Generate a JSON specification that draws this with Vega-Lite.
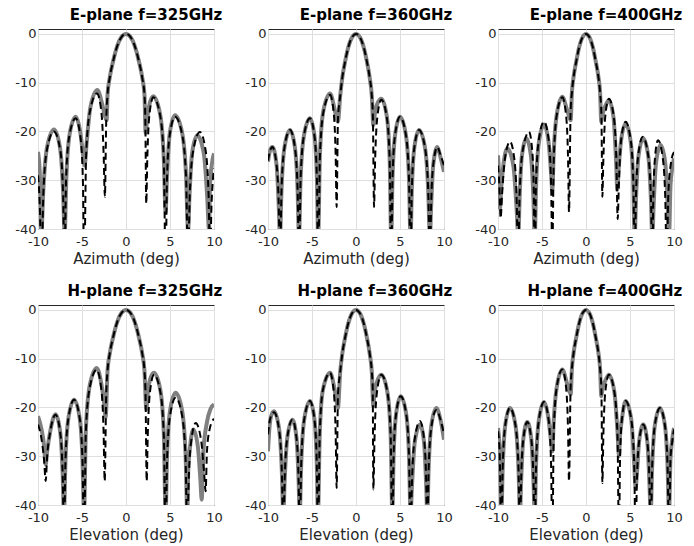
{
  "$schema": "https://vega.github.io/schema/vega-lite/v6.json",
  "background": "white",
  "padding": {"left": 14, "top": 7, "right": 5, "bottom": 5},
  "config": {
    "font": "DejaVu Sans",
    "view": {"stroke": "#262626", "strokeWidth": 1},
    "axis": {"domain": false, "ticks": false, "grid": true, "gridColor": "#dfdfdf", "gridWidth": 1, "labelFont": "DejaVu Sans", "labelFontSize": 13, "labelColor": "#262626", "labelFlush": false, "labelOverlap": false, "labelExpr": "'' + datum.value", "titleFont": "DejaVu Sans", "titleFontSize": 15, "titleFontWeight": "normal", "titleColor": "#262626", "titlePadding": 3},
    "axisX": {"labelPadding": 6},
    "axisY": {"labelPadding": 2},
    "title": {"font": "DejaVu Sans", "fontSize": 15, "fontWeight": "bold", "color": "#000000", "anchor": "end", "offset": 5}
  },
  "datasets": {
    "E325_meas": [{"x":-10,"y":-24.2},{"x":-9.8,"y":-28.5},{"x":-9.62,"y":-41},{"x":-9.4,"y":-32.2},{"x":-8.97,"y":-23.2},{"x":-8.18,"y":-19.6},{"x":-7.51,"y":-23.2},{"x":-7.15,"y":-32.2},{"x":-6.97,"y":-41},{"x":-6.78,"y":-29.6},{"x":-6.41,"y":-20.6},{"x":-5.72,"y":-17},{"x":-5.16,"y":-20.6},{"x":-4.9,"y":-24.5},{"x":-4.7,"y":-27},{"x":-4.48,"y":-22.5},{"x":-4.05,"y":-15.1},{"x":-3.26,"y":-11.5},{"x":-2.68,"y":-14.6},{"x":-2.4,"y":-16.8},{"x":-2.2,"y":-17.7},{"x":-2.1,"y":-12.5},{"x":-1.85,"y":-9},{"x":-1.45,"y":-5.5},{"x":-1,"y":-2.5},{"x":-0.5,"y":-0.6},{"x":0,"y":0},{"x":0.5,"y":-0.6},{"x":1,"y":-2.5},{"x":1.45,"y":-5.5},{"x":1.85,"y":-9},{"x":2.1,"y":-12.5},{"x":2.23,"y":-20.3},{"x":2.4,"y":-17.5},{"x":2.62,"y":-14.8},{"x":3.1,"y":-12.8},{"x":3.87,"y":-16.4},{"x":4.29,"y":-25.4},{"x":4.5,"y":-36.5},{"x":4.66,"y":-29.3},{"x":4.98,"y":-20.3},{"x":5.57,"y":-16.7},{"x":6.38,"y":-20.3},{"x":6.83,"y":-29.3},{"x":7.05,"y":-40.5},{"x":7.21,"y":-33.4},{"x":7.52,"y":-24.4},{"x":8.1,"y":-20.8},{"x":8.83,"y":-24.4},{"x":9.23,"y":-33.4},{"x":9.43,"y":-40},{"x":9.55,"y":-31},{"x":9.75,"y":-26.8},{"x":10,"y":-24.5}],
    "E325_sim": [{"x":-10,"y":-29},{"x":-9.8,"y":-35},{"x":-9.6,"y":-48},{"x":-9.39,"y":-32.6},{"x":-8.97,"y":-23.6},{"x":-8.2,"y":-20},{"x":-7.49,"y":-23.6},{"x":-7.15,"y":-32.6},{"x":-7,"y":-48},{"x":-6.81,"y":-29.9},{"x":-6.44,"y":-20.9},{"x":-5.72,"y":-17.3},{"x":-5.19,"y":-20.9},{"x":-4.9,"y":-29.9},{"x":-4.75,"y":-48},{"x":-4.53,"y":-24.8},{"x":-4.09,"y":-15.8},{"x":-3.3,"y":-12.2},{"x":-2.81,"y":-15.8},{"x":-2.54,"y":-24.8},{"x":-2.4,"y":-33.4},{"x":-2.25,"y":-18},{"x":-2.1,"y":-12.5},{"x":-1.85,"y":-9},{"x":-1.45,"y":-5.5},{"x":-1,"y":-2.5},{"x":-0.5,"y":-0.6},{"x":0,"y":0},{"x":0.5,"y":-0.6},{"x":1,"y":-2.5},{"x":1.45,"y":-5.5},{"x":1.85,"y":-9},{"x":2.1,"y":-12.5},{"x":2.2,"y":-18},{"x":2.3,"y":-34.8},{"x":2.42,"y":-25.6},{"x":2.66,"y":-16.6},{"x":3.1,"y":-13},{"x":3.87,"y":-16.6},{"x":4.29,"y":-25.6},{"x":4.5,"y":-48},{"x":4.66,"y":-29.6},{"x":4.98,"y":-20.6},{"x":5.57,"y":-17},{"x":6.38,"y":-20.6},{"x":6.83,"y":-29.6},{"x":7.05,"y":-48},{"x":7.25,"y":-32.7},{"x":7.66,"y":-23.7},{"x":8.4,"y":-20.1},{"x":9.03,"y":-23.7},{"x":9.38,"y":-32.7},{"x":9.55,"y":-48},{"x":9.7,"y":-36},{"x":9.85,"y":-30.5},{"x":10,"y":-27.6}],
    "E360_meas": [{"x":-10,"y":-26.2},{"x":-9.78,"y":-24},{"x":-9.5,"y":-23.2},{"x":-9.03,"y":-26.8},{"x":-8.77,"y":-35.8},{"x":-8.64,"y":-42},{"x":-8.47,"y":-32.3},{"x":-8.13,"y":-23.3},{"x":-7.5,"y":-19.7},{"x":-6.94,"y":-23.3},{"x":-6.63,"y":-32.3},{"x":-6.48,"y":-42},{"x":-6.3,"y":-29.9},{"x":-5.92,"y":-20.9},{"x":-5.23,"y":-17.3},{"x":-4.72,"y":-20.9},{"x":-4.44,"y":-29.9},{"x":-4.3,"y":-42},{"x":-4.1,"y":-24.8},{"x":-3.71,"y":-15.8},{"x":-2.95,"y":-12.2},{"x":-2.46,"y":-15.2},{"x":-2.2,"y":-17.3},{"x":-2.05,"y":-18},{"x":-1.8,"y":-12.8},{"x":-1.55,"y":-8.9},{"x":-1.25,"y":-5.8},{"x":-0.9,"y":-2.9},{"x":-0.45,"y":-0.7},{"x":0,"y":0},{"x":0.45,"y":-0.7},{"x":0.9,"y":-2.9},{"x":1.25,"y":-5.8},{"x":1.55,"y":-8.9},{"x":1.8,"y":-12.8},{"x":1.97,"y":-18.7},{"x":2.15,"y":-16.2},{"x":2.45,"y":-14.2},{"x":2.88,"y":-13.3},{"x":3.5,"y":-16.9},{"x":3.83,"y":-25.9},{"x":4,"y":-42},{"x":4.15,"y":-29.6},{"x":4.45,"y":-20.6},{"x":5,"y":-17},{"x":5.66,"y":-20.6},{"x":6.02,"y":-29.6},{"x":6.2,"y":-42},{"x":6.34,"y":-32.3},{"x":6.63,"y":-23.3},{"x":7.16,"y":-19.7},{"x":7.84,"y":-23.3},{"x":8.21,"y":-32.3},{"x":8.4,"y":-42},{"x":8.53,"y":-35.8},{"x":8.78,"y":-26.8},{"x":9.24,"y":-23.2},{"x":9.6,"y":-25.3},{"x":10,"y":-28.3}],
    "E360_sim": [{"x":-10,"y":-26},{"x":-9.78,"y":-24},{"x":-9.5,"y":-23.2},{"x":-9.03,"y":-26.8},{"x":-8.77,"y":-35.8},{"x":-8.64,"y":-48},{"x":-8.47,"y":-32.3},{"x":-8.13,"y":-23.3},{"x":-7.5,"y":-19.7},{"x":-6.94,"y":-23.3},{"x":-6.63,"y":-32.3},{"x":-6.48,"y":-48},{"x":-6.3,"y":-29.9},{"x":-5.92,"y":-20.9},{"x":-5.23,"y":-17.3},{"x":-4.72,"y":-20.9},{"x":-4.44,"y":-29.9},{"x":-4.3,"y":-48},{"x":-4.1,"y":-25.1},{"x":-3.71,"y":-16.1},{"x":-2.95,"y":-12.5},{"x":-2.54,"y":-16.1},{"x":-2.31,"y":-25.1},{"x":-2.2,"y":-35.5},{"x":-2.05,"y":-17.5},{"x":-1.8,"y":-12.8},{"x":-1.55,"y":-8.9},{"x":-1.25,"y":-5.8},{"x":-0.9,"y":-2.9},{"x":-0.45,"y":-0.7},{"x":0,"y":0},{"x":0.45,"y":-0.7},{"x":0.9,"y":-2.9},{"x":1.25,"y":-5.8},{"x":1.55,"y":-8.9},{"x":1.8,"y":-12.8},{"x":1.92,"y":-17},{"x":2.05,"y":-35.5},{"x":2.17,"y":-26.1},{"x":2.42,"y":-17.1},{"x":2.88,"y":-13.5},{"x":3.5,"y":-17.1},{"x":3.83,"y":-26.1},{"x":4,"y":-48},{"x":4.15,"y":-29.6},{"x":4.45,"y":-20.6},{"x":5,"y":-17},{"x":5.66,"y":-20.6},{"x":6.02,"y":-29.6},{"x":6.2,"y":-48},{"x":6.34,"y":-32.3},{"x":6.63,"y":-23.3},{"x":7.16,"y":-19.7},{"x":7.84,"y":-23.3},{"x":8.21,"y":-32.3},{"x":8.4,"y":-48},{"x":8.53,"y":-35.8},{"x":8.78,"y":-26.8},{"x":9.24,"y":-23.2},{"x":9.6,"y":-24.8},{"x":10,"y":-27}],
    "E400_meas": [{"x":-10,"y":-24.9},{"x":-9.88,"y":-29},{"x":-9.77,"y":-35.8},{"x":-9.65,"y":-32},{"x":-9.4,"y":-27.1},{"x":-8.94,"y":-23.5},{"x":-8.25,"y":-27.1},{"x":-7.88,"y":-36.1},{"x":-7.69,"y":-42},{"x":-7.55,"y":-34},{"x":-7.28,"y":-25},{"x":-6.78,"y":-21.4},{"x":-6.26,"y":-25},{"x":-5.97,"y":-34},{"x":-5.83,"y":-42},{"x":-5.67,"y":-31.2},{"x":-5.35,"y":-22.2},{"x":-4.77,"y":-18.6},{"x":-4.25,"y":-22.2},{"x":-3.97,"y":-28.5},{"x":-3.83,"y":-32},{"x":-3.66,"y":-24},{"x":-3.32,"y":-16.5},{"x":-2.69,"y":-12.9},{"x":-2.17,"y":-15.5},{"x":-1.9,"y":-17},{"x":-1.74,"y":-17.7},{"x":-1.6,"y":-12},{"x":-1.4,"y":-8.7},{"x":-1.1,"y":-5.6},{"x":-0.8,"y":-2.9},{"x":-0.4,"y":-0.7},{"x":0,"y":0},{"x":0.4,"y":-0.7},{"x":0.8,"y":-2.9},{"x":1.1,"y":-5.6},{"x":1.4,"y":-8.7},{"x":1.6,"y":-12},{"x":1.74,"y":-18},{"x":1.88,"y":-16.5},{"x":2.2,"y":-14.8},{"x":2.6,"y":-13.6},{"x":3.13,"y":-17.2},{"x":3.42,"y":-26.2},{"x":3.56,"y":-32},{"x":3.7,"y":-28},{"x":3.98,"y":-22},{"x":4.5,"y":-18.4},{"x":5.07,"y":-22},{"x":5.38,"y":-31},{"x":5.53,"y":-42},{"x":5.68,"y":-34},{"x":5.97,"y":-25},{"x":6.5,"y":-21.4},{"x":7.07,"y":-25},{"x":7.38,"y":-34},{"x":7.54,"y":-42},{"x":7.68,"y":-35.4},{"x":7.96,"y":-26.4},{"x":8.48,"y":-22.8},{"x":9,"y":-26.4},{"x":9.29,"y":-35.4},{"x":9.43,"y":-42},{"x":9.6,"y":-31},{"x":9.8,"y":-27.5},{"x":10,"y":-25.5}],
    "E400_sim": [{"x":-10,"y":-27},{"x":-9.85,"y":-31},{"x":-9.7,"y":-37.8},{"x":-9.54,"y":-33},{"x":-9.22,"y":-25.7},{"x":-8.64,"y":-22.1},{"x":-8.14,"y":-25.7},{"x":-7.87,"y":-34.7},{"x":-7.73,"y":-48},{"x":-7.54,"y":-32.7},{"x":-7.17,"y":-23.7},{"x":-6.48,"y":-20.1},{"x":-6.12,"y":-23.7},{"x":-5.93,"y":-32.7},{"x":-5.83,"y":-48},{"x":-5.68,"y":-30.6},{"x":-5.35,"y":-21.6},{"x":-4.77,"y":-18},{"x":-4.25,"y":-21.6},{"x":-3.97,"y":-30.6},{"x":-3.83,"y":-45},{"x":-3.66,"y":-25.6},{"x":-3.32,"y":-16.6},{"x":-2.69,"y":-13},{"x":-2.27,"y":-16.6},{"x":-2.04,"y":-25.6},{"x":-1.93,"y":-36.5},{"x":-1.75,"y":-16},{"x":-1.6,"y":-12},{"x":-1.4,"y":-8.7},{"x":-1.1,"y":-5.6},{"x":-0.8,"y":-2.9},{"x":-0.4,"y":-0.7},{"x":0,"y":0},{"x":0.4,"y":-0.7},{"x":0.8,"y":-2.9},{"x":1.1,"y":-5.6},{"x":1.4,"y":-8.7},{"x":1.6,"y":-12},{"x":1.75,"y":-16.5},{"x":1.86,"y":-33.4},{"x":1.97,"y":-25.9},{"x":2.19,"y":-16.9},{"x":2.6,"y":-13.3},{"x":3.15,"y":-16.9},{"x":3.45,"y":-25.9},{"x":3.6,"y":-38},{"x":3.74,"y":-30.6},{"x":4,"y":-21.6},{"x":4.5,"y":-18},{"x":5.07,"y":-21.6},{"x":5.38,"y":-30.6},{"x":5.53,"y":-48},{"x":5.67,"y":-33.7},{"x":5.95,"y":-24.7},{"x":6.45,"y":-21.1},{"x":7.05,"y":-24.7},{"x":7.38,"y":-33.7},{"x":7.54,"y":-48},{"x":7.64,"y":-34.4},{"x":7.84,"y":-25.4},{"x":8.18,"y":-21.8},{"x":8.72,"y":-25.4},{"x":9.02,"y":-34.4},{"x":9.17,"y":-48},{"x":9.35,"y":-33},{"x":9.65,"y":-26.5},{"x":10,"y":-24.2}],
    "H325_meas": [{"x":-10,"y":-21.8},{"x":-9.6,"y":-24.5},{"x":-9.3,"y":-28},{"x":-9.13,"y":-31.7},{"x":-8.96,"y":-29},{"x":-8.62,"y":-25},{"x":-8,"y":-21.4},{"x":-7.48,"y":-25},{"x":-7.19,"y":-34},{"x":-7.05,"y":-42},{"x":-6.88,"y":-31},{"x":-6.53,"y":-22},{"x":-5.9,"y":-18.4},{"x":-5.28,"y":-22},{"x":-4.94,"y":-31},{"x":-4.77,"y":-42},{"x":-4.56,"y":-24.5},{"x":-4.12,"y":-15.5},{"x":-3.33,"y":-11.9},{"x":-2.77,"y":-15.5},{"x":-2.46,"y":-19.5},{"x":-2.31,"y":-22},{"x":-2.1,"y":-12.5},{"x":-1.85,"y":-9},{"x":-1.45,"y":-5.5},{"x":-1,"y":-2.5},{"x":-0.5,"y":-0.6},{"x":0,"y":0},{"x":0.5,"y":-0.6},{"x":1,"y":-2.5},{"x":1.45,"y":-5.5},{"x":1.85,"y":-9},{"x":2.1,"y":-12.5},{"x":2.31,"y":-20.4},{"x":2.45,"y":-17.5},{"x":2.7,"y":-14.5},{"x":3.18,"y":-12.9},{"x":3.91,"y":-16.5},{"x":4.3,"y":-25.5},{"x":4.5,"y":-42},{"x":4.67,"y":-29.6},{"x":5.01,"y":-20.6},{"x":5.64,"y":-17},{"x":6.37,"y":-20.6},{"x":6.77,"y":-29.6},{"x":6.97,"y":-42},{"x":7.07,"y":-33},{"x":7.28,"y":-28.1},{"x":7.65,"y":-24.5},{"x":8.17,"y":-28.1},{"x":8.46,"y":-35},{"x":8.6,"y":-38.9},{"x":8.8,"y":-29},{"x":9.2,"y":-23},{"x":9.6,"y":-20.3},{"x":10,"y":-19.4}],
    "H325_sim": [{"x":-10,"y":-23.5},{"x":-9.6,"y":-26.5},{"x":-9.3,"y":-31},{"x":-9.13,"y":-35.1},{"x":-8.96,"y":-30},{"x":-8.62,"y":-25.1},{"x":-8,"y":-21.5},{"x":-7.48,"y":-25.1},{"x":-7.19,"y":-34.1},{"x":-7.05,"y":-48},{"x":-6.88,"y":-31},{"x":-6.53,"y":-22},{"x":-5.9,"y":-18.4},{"x":-5.28,"y":-22},{"x":-4.94,"y":-31},{"x":-4.77,"y":-48},{"x":-4.56,"y":-24.9},{"x":-4.12,"y":-15.9},{"x":-3.33,"y":-12.3},{"x":-2.83,"y":-15.9},{"x":-2.55,"y":-24.9},{"x":-2.42,"y":-35.1},{"x":-2.25,"y":-17.5},{"x":-2.1,"y":-12.5},{"x":-1.85,"y":-9},{"x":-1.45,"y":-5.5},{"x":-1,"y":-2.5},{"x":-0.5,"y":-0.6},{"x":0,"y":0},{"x":0.5,"y":-0.6},{"x":1,"y":-2.5},{"x":1.45,"y":-5.5},{"x":1.85,"y":-9},{"x":2.1,"y":-12.5},{"x":2.22,"y":-17.5},{"x":2.35,"y":-35.1},{"x":2.47,"y":-25.9},{"x":2.72,"y":-16.9},{"x":3.18,"y":-13.3},{"x":3.91,"y":-16.9},{"x":4.3,"y":-25.9},{"x":4.5,"y":-48},{"x":4.67,"y":-30.6},{"x":5.01,"y":-21.6},{"x":5.64,"y":-18},{"x":6.37,"y":-21.6},{"x":6.77,"y":-30.6},{"x":6.97,"y":-48},{"x":7.11,"y":-35.8},{"x":7.42,"y":-26.8},{"x":7.92,"y":-23.2},{"x":8.54,"y":-26.8},{"x":8.88,"y":-33.5},{"x":9.05,"y":-37.2},{"x":9.2,"y":-29},{"x":9.5,"y":-24.5},{"x":10,"y":-22.3}],
    "H360_meas": [{"x":-10,"y":-29},{"x":-9.85,"y":-24.5},{"x":-9.65,"y":-21.8},{"x":-9.32,"y":-20.8},{"x":-8.74,"y":-24.4},{"x":-8.42,"y":-33.4},{"x":-8.26,"y":-42},{"x":-8.11,"y":-35.1},{"x":-7.8,"y":-26.1},{"x":-7.23,"y":-22.5},{"x":-6.77,"y":-26.1},{"x":-6.52,"y":-35.1},{"x":-6.4,"y":-42},{"x":-6.22,"y":-31.3},{"x":-5.87,"y":-22.3},{"x":-5.23,"y":-18.7},{"x":-4.73,"y":-22.3},{"x":-4.46,"y":-31.3},{"x":-4.32,"y":-42},{"x":-4.12,"y":-25.5},{"x":-3.77,"y":-16.5},{"x":-2.95,"y":-12.9},{"x":-2.46,"y":-16},{"x":-2.2,"y":-18.8},{"x":-2.05,"y":-20.1},{"x":-1.8,"y":-12.8},{"x":-1.55,"y":-8.9},{"x":-1.25,"y":-5.8},{"x":-0.9,"y":-2.9},{"x":-0.45,"y":-0.7},{"x":0,"y":0},{"x":0.45,"y":-0.7},{"x":0.9,"y":-2.9},{"x":1.25,"y":-5.8},{"x":1.55,"y":-8.9},{"x":1.8,"y":-12.8},{"x":1.97,"y":-19.7},{"x":2.1,"y":-17},{"x":2.38,"y":-14.8},{"x":2.88,"y":-13.3},{"x":3.57,"y":-16.9},{"x":3.94,"y":-25.9},{"x":4.13,"y":-42},{"x":4.27,"y":-30.3},{"x":4.56,"y":-21.3},{"x":5.08,"y":-17.7},{"x":5.7,"y":-21.3},{"x":6.03,"y":-30.3},{"x":6.2,"y":-42},{"x":6.36,"y":-36.1},{"x":6.68,"y":-27.1},{"x":7.27,"y":-23.5},{"x":7.73,"y":-27.1},{"x":7.98,"y":-36.1},{"x":8.1,"y":-42},{"x":8.25,"y":-32.7},{"x":8.56,"y":-23.7},{"x":9.13,"y":-20.1},{"x":9.6,"y":-22.5},{"x":10,"y":-26.6}],
    "H360_sim": [{"x":-10,"y":-25.5},{"x":-9.75,"y":-22.3},{"x":-9.32,"y":-21},{"x":-8.74,"y":-24.6},{"x":-8.42,"y":-33.6},{"x":-8.26,"y":-48},{"x":-8.11,"y":-35.1},{"x":-7.8,"y":-26.1},{"x":-7.23,"y":-22.5},{"x":-6.77,"y":-26.1},{"x":-6.52,"y":-35.1},{"x":-6.4,"y":-48},{"x":-6.22,"y":-31.3},{"x":-5.87,"y":-22.3},{"x":-5.23,"y":-18.7},{"x":-4.73,"y":-22.3},{"x":-4.46,"y":-31.3},{"x":-4.32,"y":-48},{"x":-4.12,"y":-25.5},{"x":-3.77,"y":-16.5},{"x":-2.95,"y":-12.9},{"x":-2.54,"y":-16.5},{"x":-2.31,"y":-25.5},{"x":-2.2,"y":-36.5},{"x":-2.05,"y":-17.5},{"x":-1.8,"y":-12.8},{"x":-1.55,"y":-8.9},{"x":-1.25,"y":-5.8},{"x":-0.9,"y":-2.9},{"x":-0.45,"y":-0.7},{"x":0,"y":0},{"x":0.45,"y":-0.7},{"x":0.9,"y":-2.9},{"x":1.25,"y":-5.8},{"x":1.55,"y":-8.9},{"x":1.8,"y":-12.8},{"x":1.9,"y":-16},{"x":1.97,"y":-36.8},{"x":2.11,"y":-25.9},{"x":2.38,"y":-16.9},{"x":2.88,"y":-13.3},{"x":3.57,"y":-16.9},{"x":3.94,"y":-25.9},{"x":4.13,"y":-48},{"x":4.27,"y":-30.3},{"x":4.56,"y":-21.3},{"x":5.08,"y":-17.7},{"x":5.7,"y":-21.3},{"x":6.03,"y":-30.3},{"x":6.2,"y":-48},{"x":6.36,"y":-35.4},{"x":6.68,"y":-26.4},{"x":7.27,"y":-22.8},{"x":7.73,"y":-26.4},{"x":7.98,"y":-35.4},{"x":8.1,"y":-48},{"x":8.25,"y":-33.1},{"x":8.56,"y":-24.1},{"x":9.13,"y":-20.5},{"x":9.6,"y":-22.5},{"x":10,"y":-25.5}],
    "H400_meas": [{"x":-10,"y":-24.2},{"x":-9.8,"y":-29},{"x":-9.62,"y":-42},{"x":-9.47,"y":-32.7},{"x":-9.18,"y":-23.7},{"x":-8.64,"y":-20.1},{"x":-8.01,"y":-23.7},{"x":-7.67,"y":-32.7},{"x":-7.5,"y":-42},{"x":-7.38,"y":-35.6},{"x":-7.13,"y":-26.6},{"x":-6.67,"y":-23},{"x":-6.21,"y":-26.6},{"x":-5.96,"y":-35.6},{"x":-5.83,"y":-42},{"x":-5.67,"y":-31.5},{"x":-5.35,"y":-22.5},{"x":-4.77,"y":-18.9},{"x":-4.25,"y":-22.5},{"x":-3.97,"y":-27},{"x":-3.83,"y":-29},{"x":-3.66,"y":-22.5},{"x":-3.32,"y":-15.8},{"x":-2.69,"y":-12.2},{"x":-2.17,"y":-15},{"x":-1.9,"y":-16.7},{"x":-1.74,"y":-17.3},{"x":-1.6,"y":-12},{"x":-1.4,"y":-8.7},{"x":-1.1,"y":-5.6},{"x":-0.8,"y":-2.9},{"x":-0.4,"y":-0.7},{"x":0,"y":0},{"x":0.4,"y":-0.7},{"x":0.8,"y":-2.9},{"x":1.1,"y":-5.6},{"x":1.4,"y":-8.7},{"x":1.6,"y":-12},{"x":1.74,"y":-17.7},{"x":1.88,"y":-16},{"x":2.2,"y":-14.5},{"x":2.6,"y":-13.3},{"x":3.23,"y":-16.9},{"x":3.58,"y":-25},{"x":3.75,"y":-30},{"x":3.86,"y":-26},{"x":4.09,"y":-22.3},{"x":4.5,"y":-18.7},{"x":5.13,"y":-22.3},{"x":5.47,"y":-31.3},{"x":5.64,"y":-36.5},{"x":5.77,"y":-34},{"x":6.03,"y":-27.1},{"x":6.5,"y":-23.5},{"x":6.97,"y":-27.1},{"x":7.22,"y":-36.1},{"x":7.35,"y":-42},{"x":7.51,"y":-32.7},{"x":7.82,"y":-23.7},{"x":8.4,"y":-20.1},{"x":8.97,"y":-23.7},{"x":9.28,"y":-32.7},{"x":9.43,"y":-42},{"x":9.6,"y":-30.5},{"x":9.8,"y":-26.5},{"x":10,"y":-24.2}],
    "H400_sim": [{"x":-10,"y":-24.9},{"x":-9.8,"y":-30},{"x":-9.62,"y":-48},{"x":-9.47,"y":-32.7},{"x":-9.18,"y":-23.7},{"x":-8.64,"y":-20.1},{"x":-8.01,"y":-23.7},{"x":-7.67,"y":-32.7},{"x":-7.5,"y":-48},{"x":-7.38,"y":-35.6},{"x":-7.13,"y":-26.6},{"x":-6.67,"y":-23},{"x":-6.21,"y":-26.6},{"x":-5.96,"y":-35.6},{"x":-5.83,"y":-48},{"x":-5.67,"y":-31.5},{"x":-5.35,"y":-22.5},{"x":-4.77,"y":-18.9},{"x":-4.25,"y":-22.5},{"x":-3.97,"y":-31.5},{"x":-3.83,"y":-48},{"x":-3.66,"y":-24.8},{"x":-3.32,"y":-15.8},{"x":-2.69,"y":-12.2},{"x":-2.27,"y":-15.8},{"x":-2.04,"y":-24.8},{"x":-1.93,"y":-35.1},{"x":-1.75,"y":-16},{"x":-1.6,"y":-12},{"x":-1.4,"y":-8.7},{"x":-1.1,"y":-5.6},{"x":-0.8,"y":-2.9},{"x":-0.4,"y":-0.7},{"x":0,"y":0},{"x":0.4,"y":-0.7},{"x":0.8,"y":-2.9},{"x":1.1,"y":-5.6},{"x":1.4,"y":-8.7},{"x":1.6,"y":-12},{"x":1.75,"y":-16.5},{"x":1.86,"y":-35.5},{"x":1.97,"y":-25.9},{"x":2.19,"y":-16.9},{"x":2.6,"y":-13.3},{"x":3.23,"y":-16.9},{"x":3.58,"y":-25.9},{"x":3.75,"y":-48},{"x":3.86,"y":-31.3},{"x":4.09,"y":-22.3},{"x":4.5,"y":-18.7},{"x":5.13,"y":-22.3},{"x":5.47,"y":-31.3},{"x":5.64,"y":-48},{"x":5.77,"y":-36.1},{"x":6.03,"y":-27.1},{"x":6.5,"y":-23.5},{"x":6.97,"y":-27.1},{"x":7.22,"y":-36.1},{"x":7.35,"y":-48},{"x":7.51,"y":-32.7},{"x":7.82,"y":-23.7},{"x":8.4,"y":-20.1},{"x":8.97,"y":-23.7},{"x":9.28,"y":-32.7},{"x":9.43,"y":-48},{"x":9.6,"y":-30.5},{"x":9.8,"y":-27},{"x":10,"y":-24.5}]
  },
  "columns": 3,
  "spacing": {"row": 76, "column": 54},
  "bounds": "flush",
  "concat": [
    {"width": 176, "height": 200, "title": "E-plane f=325GHz",
     "encoding": {"x": {"field": "x", "type": "quantitative", "scale": {"domain": [-10, 10], "nice": false}, "axis": {"values": [-10, -5, 0, 5, 10], "title": "Azimuth (deg)"}}, "y": {"field": "y", "type": "quantitative", "scale": {"domain": [-40, 1], "nice": false}, "axis": {"values": [-40, -30, -20, -10, 0], "title": null}}},
     "layer": [
       {"data": {"name": "E325_meas"}, "mark": {"type": "line", "color": "#808080", "strokeWidth": 4, "interpolate": "monotone", "strokeJoin": "round", "clip": true}, "encoding": {}},
       {"data": {"name": "E325_sim"}, "mark": {"type": "line", "color": "#000000", "strokeWidth": 2, "strokeDash": [7, 4], "interpolate": "monotone", "clip": true}, "encoding": {}}
     ]},
    {"width": 176, "height": 200, "title": "E-plane f=360GHz",
     "encoding": {"x": {"field": "x", "type": "quantitative", "scale": {"domain": [-10, 10], "nice": false}, "axis": {"values": [-10, -5, 0, 5, 10], "title": "Azimuth (deg)"}}, "y": {"field": "y", "type": "quantitative", "scale": {"domain": [-40, 1], "nice": false}, "axis": {"values": [-40, -30, -20, -10, 0], "title": null}}},
     "layer": [
       {"data": {"name": "E360_meas"}, "mark": {"type": "line", "color": "#808080", "strokeWidth": 4, "interpolate": "monotone", "strokeJoin": "round", "clip": true}, "encoding": {}},
       {"data": {"name": "E360_sim"}, "mark": {"type": "line", "color": "#000000", "strokeWidth": 2, "strokeDash": [7, 4], "interpolate": "monotone", "clip": true}, "encoding": {}}
     ]},
    {"width": 176, "height": 200, "title": "E-plane f=400GHz",
     "encoding": {"x": {"field": "x", "type": "quantitative", "scale": {"domain": [-10, 10], "nice": false}, "axis": {"values": [-10, -5, 0, 5, 10], "title": "Azimuth (deg)"}}, "y": {"field": "y", "type": "quantitative", "scale": {"domain": [-40, 1], "nice": false}, "axis": {"values": [-40, -30, -20, -10, 0], "title": null}}},
     "layer": [
       {"data": {"name": "E400_meas"}, "mark": {"type": "line", "color": "#808080", "strokeWidth": 4, "interpolate": "monotone", "strokeJoin": "round", "clip": true}, "encoding": {}},
       {"data": {"name": "E400_sim"}, "mark": {"type": "line", "color": "#000000", "strokeWidth": 2, "strokeDash": [7, 4], "interpolate": "monotone", "clip": true}, "encoding": {}}
     ]},
    {"width": 176, "height": 200, "title": "H-plane f=325GHz",
     "encoding": {"x": {"field": "x", "type": "quantitative", "scale": {"domain": [-10, 10], "nice": false}, "axis": {"values": [-10, -5, 0, 5, 10], "title": "Elevation (deg)"}}, "y": {"field": "y", "type": "quantitative", "scale": {"domain": [-40, 1], "nice": false}, "axis": {"values": [-40, -30, -20, -10, 0], "title": null}}},
     "layer": [
       {"data": {"name": "H325_meas"}, "mark": {"type": "line", "color": "#808080", "strokeWidth": 4, "interpolate": "monotone", "strokeJoin": "round", "clip": true}, "encoding": {}},
       {"data": {"name": "H325_sim"}, "mark": {"type": "line", "color": "#000000", "strokeWidth": 2, "strokeDash": [7, 4], "interpolate": "monotone", "clip": true}, "encoding": {}}
     ]},
    {"width": 176, "height": 200, "title": "H-plane f=360GHz",
     "encoding": {"x": {"field": "x", "type": "quantitative", "scale": {"domain": [-10, 10], "nice": false}, "axis": {"values": [-10, -5, 0, 5, 10], "title": "Elevation (deg)"}}, "y": {"field": "y", "type": "quantitative", "scale": {"domain": [-40, 1], "nice": false}, "axis": {"values": [-40, -30, -20, -10, 0], "title": null}}},
     "layer": [
       {"data": {"name": "H360_meas"}, "mark": {"type": "line", "color": "#808080", "strokeWidth": 4, "interpolate": "monotone", "strokeJoin": "round", "clip": true}, "encoding": {}},
       {"data": {"name": "H360_sim"}, "mark": {"type": "line", "color": "#000000", "strokeWidth": 2, "strokeDash": [7, 4], "interpolate": "monotone", "clip": true}, "encoding": {}}
     ]},
    {"width": 176, "height": 200, "title": "H-plane f=400GHz",
     "encoding": {"x": {"field": "x", "type": "quantitative", "scale": {"domain": [-10, 10], "nice": false}, "axis": {"values": [-10, -5, 0, 5, 10], "title": "Elevation (deg)"}}, "y": {"field": "y", "type": "quantitative", "scale": {"domain": [-40, 1], "nice": false}, "axis": {"values": [-40, -30, -20, -10, 0], "title": null}}},
     "layer": [
       {"data": {"name": "H400_meas"}, "mark": {"type": "line", "color": "#808080", "strokeWidth": 4, "interpolate": "monotone", "strokeJoin": "round", "clip": true}, "encoding": {}},
       {"data": {"name": "H400_sim"}, "mark": {"type": "line", "color": "#000000", "strokeWidth": 2, "strokeDash": [7, 4], "interpolate": "monotone", "clip": true}, "encoding": {}}
     ]}
  ]
}
